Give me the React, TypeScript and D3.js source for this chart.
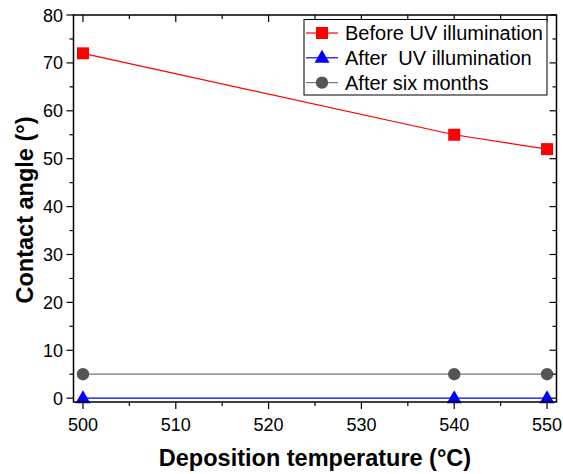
import React from "react";
import * as d3 from "d3";

const temps = [500, 540, 550];
const beforeUV = [72, 55, 52];
const afterUV = [0, 0, 0];
const afterSix = [5, 5, 5];
const xTicks = [500, 510, 520, 530, 540, 550];
const yTicks = [0, 10, 20, 30, 40, 50, 60, 70, 80];
const seriesNames = ["Before UV illumination", "After  UV illumination", "After six months"];

const W = 563, H = 474;
const L = 73.5, R = 556.5, T = 15, B = 402;
const FONT = "'Liberation Sans', Arial, sans-serif";

export default function App() {
  const x = d3.scaleLinear().domain([498.98, 551.02]).range([L, R]);
  const y = d3.scaleLinear().domain([-0.8, 80]).range([B, T]);
  const line = d3.line<[number, number]>().x(d => x(d[0])).y(d => y(d[1]));
  const xMinor = d3.range(500, 551, 5);
  const yMinor = d3.range(0, 81, 5);
  const series = [
    { name: seriesNames[0], vals: beforeUV, color: "#ff0000", line: "#ff0000", shape: "square" },
    { name: seriesNames[1], vals: afterUV, color: "#0000ff", line: "#0000ff", shape: "triangle" },
    { name: seriesNames[2], vals: afterSix, color: "#555555", line: "#777777", shape: "circle" },
  ];
  const marker = (shape: string, cx: number, cy: number, color: string, key: any) => {
    if (shape === "square") return <rect key={key} x={cx - 6} y={cy - 6} width={12} height={12} fill={color} />;
    if (shape === "triangle") return <path key={key} d={`M${cx},${cy - 8}L${cx + 7.5},${cy + 5}L${cx - 7.5},${cy + 5}Z`} fill={color} />;
    return <circle key={key} cx={cx} cy={cy} r={6.2} fill={color} />;
  };
  return (
    <svg width={W} height={H} style={{ position: "absolute", left: 0, top: 0 }} fontFamily={FONT}>
      <rect width={W} height={H} fill="#fff" />
      {series.slice().reverse().map((s, si) => (
        <g key={si}>
          <path d={line(temps.map((t, i) => [t, s.vals[i]]) as [number, number][]) || ""} fill="none" stroke={s.line} strokeWidth={1.2} />
          {temps.map((t, i) => marker(s.shape, x(t), y(s.vals[i]), s.color, i))}
        </g>
      ))}
      <rect x={L} y={T} width={R - L} height={B - T} fill="none" stroke="#000" strokeWidth={1.5} />
      {xMinor.map(v => {
        const major = v % 10 === 0;
        return (
          <g key={"x" + v}>
            <line x1={x(v)} x2={x(v)} y1={B} y2={B + (major ? 7 : 4)} stroke="#000" strokeWidth={1.2} />
            <line x1={x(v)} x2={x(v)} y1={T} y2={T + (major ? 7 : 4)} stroke="#000" strokeWidth={1.2} />
          </g>
        );
      })}
      {yMinor.map(v => {
        const major = v % 10 === 0;
        return (
          <g key={"y" + v}>
            <line x1={L} x2={L - (major ? 7 : 4)} y1={y(v)} y2={y(v)} stroke="#000" strokeWidth={1.2} />
            <line x1={R} x2={R - (major ? 7 : 4)} y1={y(v)} y2={y(v)} stroke="#000" strokeWidth={1.2} />
          </g>
        );
      })}
      {xTicks.map(v => (
        <text key={"xl" + v} x={x(v)} y={431} textAnchor="middle" fontSize={18} fill="#000">{v}</text>
      ))}
      {yTicks.map(v => (
        <text key={"yl" + v} x={63} y={y(v) + 6.5} textAnchor="end" fontSize={18} fill="#000">{v}</text>
      ))}
      <text x={(L + R) / 2} y={466} textAnchor="middle" fontSize={23.5} fontWeight="bold">Deposition temperature (°C)</text>
      <text transform={`translate(33,210) rotate(-90)`} textAnchor="middle" fontSize={23.5} fontWeight="bold">Contact angle (°)</text>
      <rect x={304} y={19.5} width={243} height={75.5} fill="#fff" stroke="#000" strokeWidth={1} />
      {series.map((s, i) => {
        const cy = 33 + i * 24.8;
        return (
          <g key={"lg" + i}>
            <line x1={306} x2={338} y1={cy} y2={cy} stroke={s.line} strokeWidth={1.2} />
            {marker(s.shape, 322, cy, s.color, "m")}
            <text x={345} y={cy + 7} fontSize={20} fill="#000" style={{ whiteSpace: "pre" }}>{s.name}</text>
          </g>
        );
      })}
    </svg>
  );
}
